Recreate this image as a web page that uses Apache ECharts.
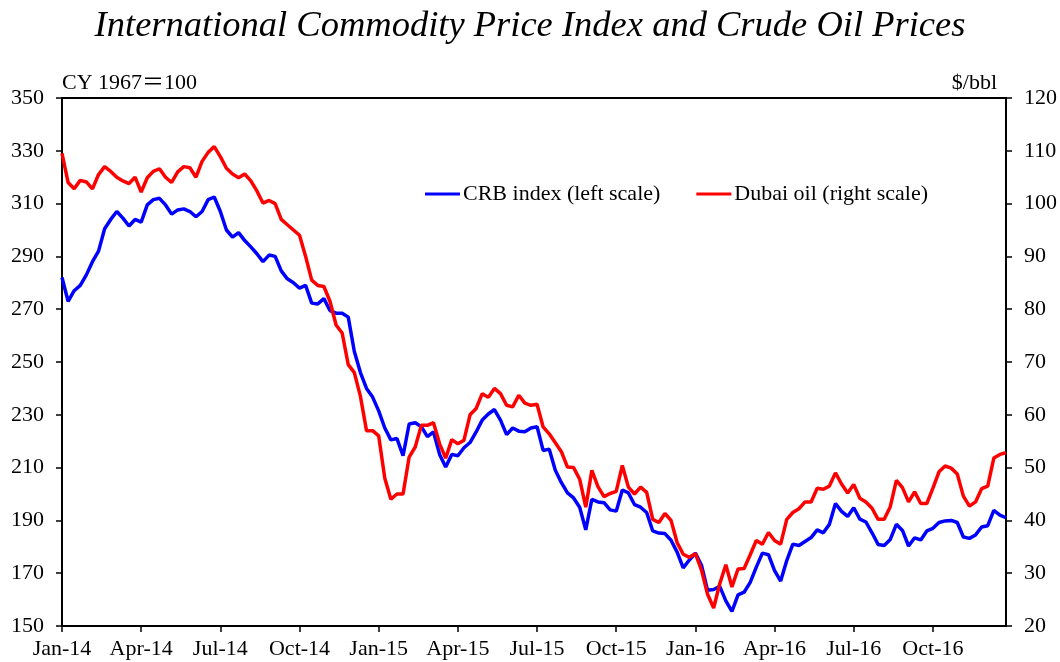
<!DOCTYPE html>
<html>
<head>
<meta charset="utf-8">
<title>International Commodity Price Index and Crude Oil Prices</title>
<script src="https://cdn.jsdelivr.net/npm/echarts@6.0.0/dist/echarts.min.js"></script>
<style>
  html, body { margin: 0; padding: 0; background: #fff; }
  #chart-container { width: 1060px; height: 662px; }
</style>
</head>
<body>
<div id="chart-container"></div>
<script>
// weekly readings, first week of Jan-14 to late Dec-16 (156 points)
var xLabels = ['Jan-14', 'Apr-14', 'Jul-14', 'Oct-14', 'Jan-15', 'Apr-15', 'Jul-15', 'Oct-15', 'Jan-16', 'Apr-16', 'Jul-16', 'Oct-16'];

// CRB index, CY 1967 = 100 (left scale)
var crb = [
  282, 273, 277, 279, 283, 288, 292, 300.5, 304, 307,
  304.5, 301.5, 304, 303, 309.5, 311.5, 312, 309.5, 306, 307.6,
  308, 307, 305, 307, 311.5, 312.5, 307, 300, 297.3, 299,
  296, 293.6, 291, 288, 290.5, 290, 284.5, 281.5, 280, 278,
  279, 272.3, 272, 274, 269.5, 268.5, 268.5, 267, 254, 246,
  240, 236.7, 231.5, 225, 220.5, 221, 214.5, 226.5, 227, 225.5,
  221.7, 223.5, 215, 210.2, 215, 214.5, 217.5, 219.5, 223.5, 228,
  230.3, 232, 228, 222.5, 225, 223.8, 223.6, 225, 225.5, 216.5,
  217, 209, 204.3, 200.4, 198.5, 195, 186.4, 198, 197, 196.7,
  194, 193.5, 201.5, 200.4, 196, 195, 193, 186, 185.2, 185,
  182.5, 178, 172, 175, 177.6, 173, 163.5, 163.8, 165, 159.5,
  155.5, 161.8, 162.8, 166.5, 172.3, 177.6, 177, 171, 167, 174.8,
  181, 180.5, 182, 183.5, 186.4, 185.3, 188.5, 196.4, 193.4, 191.5,
  194.8, 190.5, 189.4, 185.3, 180.9, 180.5, 182.8, 188.5, 186.2, 180.3,
  183.4, 182.6, 186, 187, 189.2, 189.8, 190, 189.2, 183.7, 183.2,
  184.5, 187.5, 188, 193.8, 192, 191
];

// Dubai crude, $/bbl (right scale)
var dubai = [
  109.5, 104, 102.8, 104.4, 104.1, 102.8, 105.5, 107, 106.1, 105,
  104.3, 103.8, 105, 102.2, 104.9, 106.1, 106.6, 105, 104, 106,
  107, 106.8, 105, 108, 109.7, 110.8, 108.9, 106.7, 105.6, 104.9,
  105.6, 104.3, 102.4, 100.1, 100.6, 100, 97, 96, 95, 94,
  90, 85.5, 84.5, 84.3, 81.5, 77, 75.5, 69.5, 68, 63.5,
  57, 57, 56, 48, 44, 45, 45, 52, 53.9, 58,
  58, 58.5, 54.5, 51.8, 55.3, 54.5, 55.2, 60, 61.2, 64,
  63.3, 65, 64, 61.8, 61.5, 63.7, 62.2, 61.8, 62, 57.7,
  56.4, 54.7, 53, 50.1, 50, 47.8, 42.5, 49.5, 46.4, 44.5,
  45.1, 45.5, 50.4, 46.3, 45, 46.3, 45.3, 40.2, 39.6, 41.3,
  40, 35.8, 33.6, 33, 33.7, 30.6, 26, 23.4, 28, 31.6,
  27.4, 30.8, 30.9, 33.5, 36.2, 35.5, 37.7, 36.2, 35.5, 40.2,
  41.5, 42.2, 43.5, 43.5, 46.1, 45.9, 46.5, 49, 46.9, 45.2,
  46.8, 44.2, 43.5, 42.3, 40.2, 40.2, 42.6, 47.6, 46.2, 43.5,
  45.4, 43.2, 43.2, 46.1, 49.2, 50.3, 49.9, 48.8, 44.6, 42.7,
  43.5, 46, 46.5, 51.8, 52.5, 52.8
];

// week categories (only used as keys, the axis shows xLabels every 13 weeks)
var weeks = [];
for (var i = 0; i < crb.length; i++) {
  weeks.push('W' + i);
}

var serif = "'Liberation Serif', 'Times New Roman', 'DejaVu Serif', 'Noto Sans CJK JP', serif";

var dom = document.getElementById('chart-container');
var myChart = echarts.init(dom, null, { renderer: 'canvas' });

var option = {
  animation: false,
  backgroundColor: '#fff',
  title: {
    text: 'International Commodity Price Index and Crude Oil Prices',
    left: 'center',
    top: 3,
    textStyle: {
      color: '#000',
      fontSize: 36.5,
      fontStyle: 'italic',
      fontWeight: 'normal',
      fontFamily: serif
    }
  },
  legend: {
    left: 420,
    top: 178,
    icon: 'rect',
    itemWidth: 35,
    itemHeight: 3,
    itemGap: 36,
    data: ['CRB index (left scale)', 'Dubai oil (right scale)'],
    textStyle: {
      color: '#000',
      fontSize: 22,
      fontFamily: serif,
      padding: [0, 0, 0, -2]
    }
  },
  grid: {
    left: 62,
    right: 54,
    top: 98,
    bottom: 36,
    show: true,
    borderColor: '#000',
    borderWidth: 2,
    containLabel: false,
    outerBoundsMode: 'none'
  },
  xAxis: {
    type: 'category',
    boundaryGap: false,
    data: weeks,
    axisLine: { lineStyle: { color: '#000', width: 2 } },
    axisTick: { interval: 12, length: 6, lineStyle: { color: '#000', width: 1.5 } },
    axisLabel: {
      interval: 12,
      margin: 12,
      color: '#000',
      fontSize: 22,
      fontFamily: serif,
      formatter: function (val, idx) {
        return xLabels[Math.round(idx / 13)] || '';
      }
    },
    splitLine: { show: false }
  },
  yAxis: [
    {
      type: 'value',
      min: 150,
      max: 350,
      interval: 20,
      position: 'left',
      name: 'CY 1967\uFF1D100',
      nameLocation: 'end',
      nameGap: 15,
      nameTextStyle: {
        align: 'left',
        verticalAlign: 'middle',
        color: '#000',
        fontSize: 22,
        fontFamily: serif
      },
      axisLine: { show: true, lineStyle: { color: '#000', width: 2 } },
      axisTick: { show: true, length: 6, lineStyle: { color: '#000', width: 1.5 } },
      axisLabel: { margin: 18, color: '#000', fontSize: 22, fontFamily: serif },
      splitLine: { show: false }
    },
    {
      type: 'value',
      min: 20,
      max: 120,
      interval: 10,
      position: 'right',
      name: '$/bbl',
      nameLocation: 'end',
      nameGap: 15,
      nameTextStyle: {
        align: 'right',
        verticalAlign: 'middle',
        padding: [0, 9, 0, 0],
        color: '#000',
        fontSize: 22,
        fontFamily: serif
      },
      axisLine: { show: true, lineStyle: { color: '#000', width: 2 } },
      axisTick: { show: true, length: 6, lineStyle: { color: '#000', width: 1.5 } },
      axisLabel: { margin: 18, color: '#000', fontSize: 22, fontFamily: serif },
      splitLine: { show: false }
    }
  ],
  series: [
    {
      name: 'CRB index (left scale)',
      type: 'line',
      yAxisIndex: 0,
      data: crb,
      showSymbol: false,
      color: '#0000FF',
      lineStyle: { color: '#0000FF', width: 3.5 }
    },
    {
      name: 'Dubai oil (right scale)',
      type: 'line',
      yAxisIndex: 1,
      data: dubai,
      showSymbol: false,
      color: '#FF0000',
      lineStyle: { color: '#FF0000', width: 3.5 }
    }
  ]
};

myChart.setOption(option);
window.addEventListener('resize', function () { myChart.resize(); });
</script>
</body>
</html>
